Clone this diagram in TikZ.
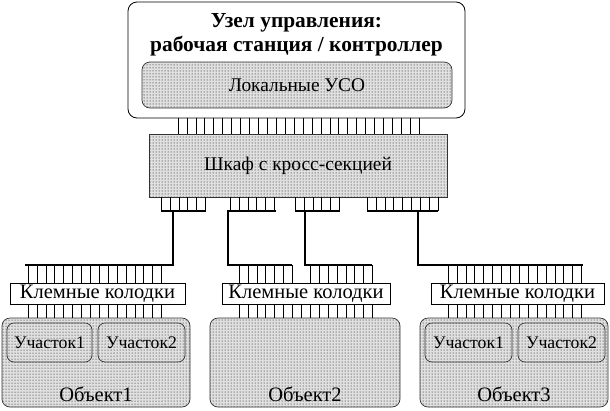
\documentclass[tikz,border=0pt]{standalone}
\usepackage{fontspec}
\setmainfont{Liberation Serif}
\usetikzlibrary{patterns,positioning}
\tikzset{
  ramka/.style={draw,line width=0.8pt,rounded corners=9pt,inner sep=0pt},
  tochki/.style={draw=black!80,line width=0.7pt,preaction={fill=black!12},
    pattern=dots,pattern color=black,inner sep=0pt},
  kolod/.style={draw,line width=0.7pt,fill=white,inner sep=0pt,minimum height=21pt,font=\fontsize{20.5}{22}\selectfont},
  uch/.style={tochki,rounded corners=7pt,minimum height=39pt,font=\fontsize{17.7}{19}\selectfont},
  obj/.style={tochki,rounded corners=8pt,minimum height=89pt},
  pin/.style={line width=0.6pt},
  shina/.style={line width=2.8pt},
}

\begin{document}
\begin{tikzpicture}[x=1pt,y=-1pt]
  \useasboundingbox (0,0) rectangle (610,410);
  % uzel upravleniya
  \node[ramka,minimum width=337pt,minimum height=116pt] (uzel) at (296.5,60) {};
  \node[align=center,font=\fontsize{21.4}{24}\selectfont\bfseries] (zag) at (296.5,34.5)
    {Узел управления:\\ рабочая станция / контроллер};
  \node[tochki,rounded corners=8pt,minimum width=310pt,minimum height=46pt,
    font=\fontsize{19.4}{21}\selectfont] (uso) at (297,85) {Локальные УСО};
  % shkaf
  \node[tochki,minimum width=298pt,minimum height=63pt,
    font=\fontsize{19.4}{21}\selectfont] (shkaf) at (298,165.5) {Шкаф с кросс-секцией};
  \foreach \i in {0,...,27} {
    \pgfmathsetmacro\x{178+8.93*\i}
    \coordinate (t) at (\x,0);
    \draw[pin] (t |- uzel.south) -- (t |- shkaf.north);
  }
  % klemmnye kolodki
  \node[kolod,minimum width=175pt] (kol1) at (97.5,293.5) {Клемные колодки};
  \node[kolod,minimum width=168pt] (kol2) at (306,293.5) {Клемные колодки};
  \node[kolod,minimum width=173pt] (kol3) at (517.5,293.5) {Клемные колодки};
  % obekty
  \node[obj,minimum width=188pt] (ob1) at (96,362.5) {};
  \node[obj,minimum width=190pt] (ob2) at (305,362.5) {};
  \node[obj,minimum width=188pt] (ob3) at (514,362.5) {};
  \node[uch,minimum width=85pt] (uch11) at (49.5,342.5) {Участок1};
  \node[uch,minimum width=87pt] (uch12) at (141.5,342.5) {Участок2};
  \node[uch,minimum width=87pt] (uch31) at (468.5,342.5) {Участок1};
  \node[uch,minimum width=87pt] (uch32) at (561.5,342.5) {Участок2};
  \foreach \n/\t in {ob1/Объект1,ob2/Объект2,ob3/Объект3}
    \node[above=2pt of \n.south,font=\fontsize{20.5}{22}\selectfont] (\n t) {\t};
  % shiny
  \coordinate (v1) at (173,211);  \coordinate (k1) at (25,265);
  \coordinate (v2) at (228,211);  \coordinate (k2) at (292,265);
  \coordinate (v3) at (305,211);  \coordinate (k3) at (372,265);
  \coordinate (v4) at (418,211);  \coordinate (k4) at (583,265);
  \draw[shina] (161,211) -- (205.5,211) (v1) |- (k1);
  \draw[shina] (276,211) -- (v2) |- (k2);
  \draw[shina] (295,211) -- (339.5,211) (v3) |- (k3);
  \draw[shina] (367,211) -- (438,211) (v4) |- (k4);
  \foreach \a/\n in {161/6,230/6,295/6,367/9} {
    \foreach \i in {1,...,\n} {
      \pgfmathsetmacro\x{\a+8.9*(\i-1)}
      \coordinate (t) at (\x,0);
      \draw[pin] (t |- shkaf.south) -- (t |- v1);
    }
  }
  % kontakty kolodok
  \foreach \a/\k/\o in {28/kol1/ob1,239/kol2/ob2,448/kol3/ob3} {
    \foreach \i in {0,...,15} {
      \pgfmathsetmacro\x{\a+8.9*\i}
      \coordinate (t) at (\x,0);
      \draw[pin] (t |- \k.south) -- (t |- \o.north);
    }
  }
  \foreach \i in {0,...,15} {
    \pgfmathsetmacro\x{28+8.9*\i}
    \coordinate (t) at (\x,0);
    \draw[pin] (t |- k1) -- (t |- kol1.north);
    \pgfmathsetmacro\x{448+8.9*\i}
    \coordinate (t) at (\x,0);
    \draw[pin] (t |- k4) -- (t |- kol3.north);
  }
  \foreach \i in {0,...,6,8,9,10,11,12,13,14,15} {
    \pgfmathsetmacro\x{239+8.9*\i}
    \coordinate (t) at (\x,0);
    \draw[pin] (t |- k2) -- (t |- kol2.north);
  }
\end{tikzpicture}
\end{document}
